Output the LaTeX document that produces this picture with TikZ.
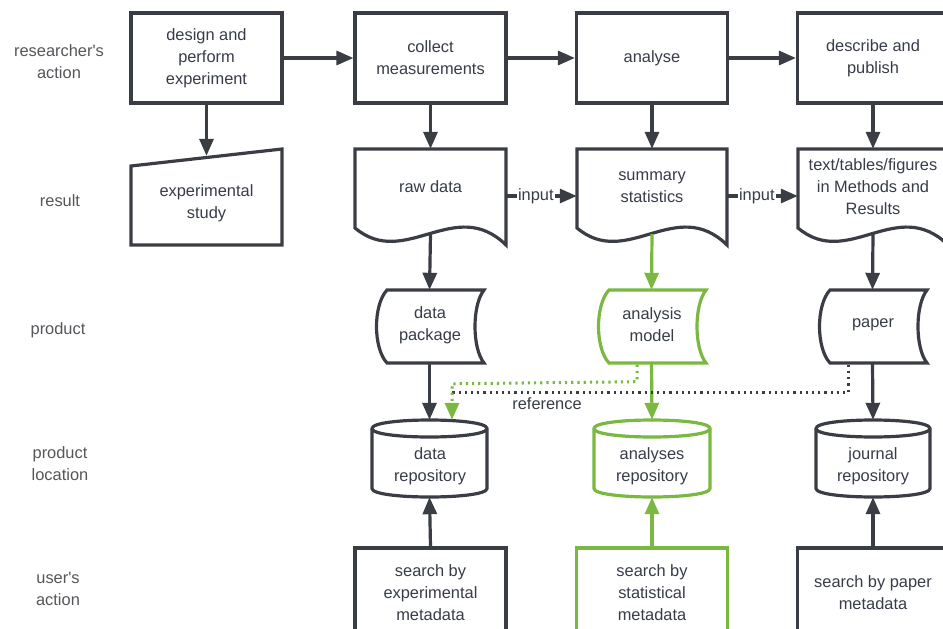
\documentclass[tikz,border=0pt]{standalone}
\usepackage{fontspec}
\setmainfont{Liberation Sans}
\usetikzlibrary{arrows.meta,calc}
\definecolor{ln}{RGB}{58,61,68}
\definecolor{gr}{RGB}{122,184,66}
\definecolor{tx}{RGB}{55,60,72}
\definecolor{lab}{RGB}{85,85,90}
\newcommand\drawcyl[5]{%
 \draw[#1,fill=white] (#2,#4+8.5) -- (#2,#5-8.5) .. controls (#2,#5+2.83) and (#3,#5+2.83) .. (#3,#5-8.5) -- (#3,#4+8.5) .. controls (#3,#4-2.83) and (#2,#4-2.83) .. cycle;
 \draw[#1] (#2,#4+8.5) .. controls (#2,#4+19.83) and (#3,#4+19.83) .. (#3,#4+8.5);}
\newcommand\drawdoc[4]{%
 \draw[#1,fill=white] (#2,#4) -- (#3,#4) -- (#3,#4+96) .. controls (#3-51,#4+46) and (#2+50,#4+121) .. (#2,#4+79) -- cycle;}
\newcommand\drawstored[5]{%
 \draw[#1,fill=white] (#2+12,#4) -- (#3,#4) .. controls (#3-12,#4+15) and (#3-12,#5-15) .. (#3,#5) -- (#2+12,#5) .. controls (#2-2,#5-15) and (#2-2,#4+15) .. cycle;}
\begin{document}
\begin{tikzpicture}[x=1pt,y=-1pt,
 every node/.style={font=\fontsize{16.4}{22}\selectfont, text=tx, align=center},
 shp/.style={line width=3.2pt, draw=ln, line join=miter},
 gshp/.style={line width=3.2pt, draw=gr, line join=miter},
 actbox/.style={shp, fill=white, minimum width=151pt, minimum height=90pt, inner sep=0pt},
 gactbox/.style={actbox, draw=gr},
 bb/.style={inner sep=0pt, draw=none},
 lbl/.style={text=lab},
 arr/.style={line width=3.2pt, draw=ln, -{Triangle[length=17pt,width=14pt]}},
 garr/.style={arr, draw=gr},
 rdot/.style={line width=3pt, draw=ln, dash pattern=on 2.2pt off 4pt},
 gdot/.style={line width=3pt, draw=gr, dash pattern=on 2.2pt off 4pt},
 inlab/.style={fill=white, inner sep=1pt}
]
\useasboundingbox (0,0) rectangle (943,629);
\clip (0,0) rectangle (943,629);

% left labels
\node[lbl] (l1) at (59,62) {researcher\textquotesingle s\\action};
\node[lbl] (l2) at (60,201) {result};
\node[lbl] (l3) at (58,330) {product};
\node[lbl] (l4) at (60,464) {product\\location};
\node[lbl] (l5) at (58,589) {user\textquotesingle s\\action};

% row 1
\node[actbox] (design) at (206.5,58) {design and\\perform\\experiment};
\node[actbox] (collect) at (430.5,58) {collect\\measurements};
\node[actbox] (analyse) at (652,58) {analyse};
\node[actbox] (describe) at (873,58) {describe and\\publish};

% row 2 shapes
\draw[shp,fill=white] (131,166) -- (282,149) -- (282,245) -- (131,245) -- cycle;
\node[bb, minimum width=151pt, minimum height=96pt] (expB) at (206.5,197) {};
\node (exp) at (206.5,203) {experimental\\study};
\drawdoc{shp}{355}{506}{149}
\node[bb, minimum width=151pt, minimum height=96pt] (rawB) at (430.5,197) {};
\node (raw) at (430.5,187) {raw data};
\drawdoc{shp}{577}{727}{149}
\node[bb, minimum width=150pt, minimum height=96pt] (sumB) at (652,197) {};
\node (sum) at (652,187) {summary\\statistics};
\drawdoc{shp}{798}{948}{149}
\node[bb, minimum width=150pt, minimum height=96pt] (txtB) at (873,197) {};
\node (txt) at (873,187) {text/tables/figures\\in Methods and\\Results};

% row 3
\drawstored{shp}{375}{484}{290}{363}
\node[bb, minimum width=109pt, minimum height=73pt] (pkgB) at (429.5,326.5) {};
\node (pkg) at (430,325) {data\\package};
\drawstored{gshp}{597}{706}{290}{363}
\node[bb, minimum width=109pt, minimum height=73pt] (modB) at (651.5,326.5) {};
\node (mod) at (652,325) {analysis\\model};
\drawstored{shp}{818}{927}{290}{363}
\node[bb, minimum width=109pt, minimum height=73pt] (papB) at (872.5,326.5) {};
\node (pap) at (873,325) {paper};

% row 4
\drawcyl{shp}{372}{487}{420}{497}
\node[bb, minimum width=115pt, minimum height=77pt] (drepB) at (429.5,458.5) {};
\node (drep) at (430,466) {data\\repository};
\drawcyl{gshp}{594}{710}{420}{497}
\node[bb, minimum width=116pt, minimum height=77pt] (arepB) at (652,458.5) {};
\node (arep) at (652,466) {analyses\\repository};
\drawcyl{shp}{816}{930}{420}{497}
\node[bb, minimum width=114pt, minimum height=77pt] (jrepB) at (873,458.5) {};
\node (jrep) at (873,466) {journal\\repository};

% row 5
\node[actbox] (s1) at (430.5,593) {search by\\experimental\\metadata};
\node[gactbox] (s2) at (652,593) {search by\\statistical\\metadata};
\node[actbox] (s3) at (873,593) {search by paper\\metadata};

% arrows row 1
\draw[arr] (design.east) -- (collect.west);
\draw[arr] (collect.east) -- (analyse.west);
\draw[arr] (analyse.east) -- (describe.west);
\draw[arr] (design.south) -- ($(expB.north)+(0,7)$);
\draw[arr] (collect.south) -- (rawB.north);
\draw[arr] (analyse.south) -- (sumB.north);
\draw[arr] (describe.south) -- (txtB.north);

% input arrows
\draw[arr] ($(rawB.east)+(0,-1)$) -- node[inlab, pos=0.42] (in1) {input} ($(sumB.west)+(0,-1)$);
\draw[arr] ($(sumB.east)+(0,-1)$) -- node[inlab, pos=0.42] (in2) {input} ($(txtB.west)+(0,-1)$);

% result -> product
\draw[arr] ($(rawB.south)+(0,-11)$) -- (pkgB.north);
\draw[garr] ($(sumB.south)+(0,-11)$) -- (modB.north);
\draw[arr] ($(txtB.south)+(0,-11)$) -- (papB.north);

% product -> location
\draw[arr] (pkgB.south) -- (drepB.north);
\draw[garr] (modB.south) -- (arepB.north);
\draw[arr] (papB.south) -- (jrepB.north);

% reference dotted
\coordinate (refjoin) at ($(drepB.north)+(22.5,-27)$);
\draw[rdot] ($(papB.south)+(-24.5,1.5)$) |- (refjoin);
\draw[gdot] ($(modB.south)+(-14.5,1.5)$) -- ++(0,17) -- ($(drepB.north)+(22.5,-36)$) -- ($(drepB.north)+(22.5,-14)$);
\draw[garr] ($(drepB.north)+(22.5,-15)$) -- ($(drepB.north)+(22.5,0)$);
\node[text=tx] (reflab) at (547,404) {reference};

% search -> location
\draw[arr] (s1.north) -- (drepB.south);
\draw[garr] (s2.north) -- (arepB.south);
\draw[arr] (s3.north) -- (jrepB.south);
\end{tikzpicture}
\end{document}
